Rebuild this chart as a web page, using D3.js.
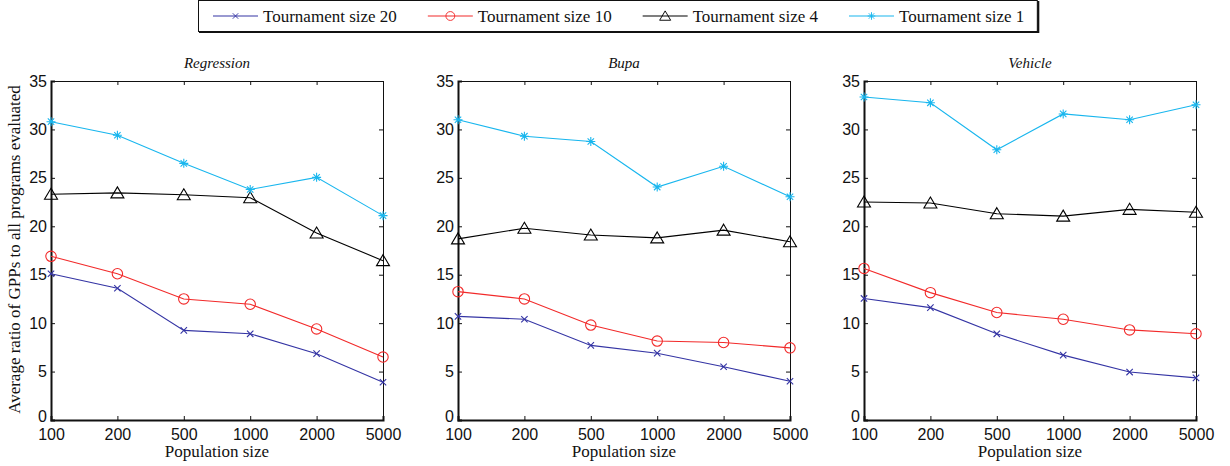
<!DOCTYPE html>
<html>
<head>
<meta charset="utf-8">
<script src="https://cdn.jsdelivr.net/npm/d3@7"></script>
<style>
  body { margin: 0; background: #fff; }
  svg { display: block; }
  .tick text { font-family: "Liberation Sans", Arial, sans-serif; font-size: 16px; fill: #111; }
  .lbl { font-family: "Liberation Serif", "Times New Roman", serif; font-size: 17px; fill: #111; }
</style>
</head>
<body>
<script>
  'use strict';

  var popSizes = ["100", "200", "500", "1000", "2000", "5000"];
  var yTicks = [0, 5, 10, 15, 20, 25, 30, 35];
  var panelTitles = ["Regression", "Bupa", "Vehicle"];
  var seriesNames = ["Tournament size 20", "Tournament size 10", "Tournament size 4", "Tournament size 1"];

  // one array per dataset, one row per tournament size (20, 10, 4, 1)
  var regression = [
    [15.1, 13.6, 9.25, 8.9, 6.85, 3.9],
    [16.9, 15.1, 12.5, 11.95, 9.4, 6.5],
    [23.3, 23.45, 23.25, 22.95, 19.3, 16.45],
    [30.8, 29.4, 26.5, 23.8, 25.05, 21.1]
  ];
  var bupa = [
    [10.7, 10.4, 7.7, 6.9, 5.5, 4.0],
    [13.25, 12.5, 9.8, 8.15, 8.0, 7.45],
    [18.7, 19.8, 19.1, 18.8, 19.6, 18.4],
    [31.0, 29.3, 28.75, 24.05, 26.2, 23.05]
  ];
  var vehicle = [
    [12.55, 11.6, 8.9, 6.7, 4.95, 4.35],
    [15.65, 13.15, 11.1, 10.4, 9.3, 8.9],
    [22.5, 22.4, 21.3, 21.05, 21.75, 21.45],
    [33.35, 32.75, 27.9, 31.6, 31.0, 32.55]
  ];
  var panelData = [regression, bupa, vehicle];

  var colors = ["#3434a4", "#f22a2a", "#000000", "#18b6ee"];
  var markers = ["x", "o", "tri", "star"];

  (function () {
    var width = 1230;
    var height = 466;
    var plotTop = 81, plotBottom = 420, plotW = 332;
    var panelLeft = [51, 458, 864];

    var svg = d3.select("body").append("svg")
      .attr("width", width)
      .attr("height", height);

    var y = d3.scaleLinear().domain([0, 35]).range([plotBottom, plotTop]);

    function drawMarker(g, kind, color) {
      if (kind === "x") {
        g.append("path").attr("d", "M-3.2,-3.2L3.2,3.2M-3.2,3.2L3.2,-3.2")
          .attr("stroke", color).attr("stroke-width", 1.1).attr("fill", "none");
      } else if (kind === "o") {
        g.append("circle").attr("r", 5.2)
          .attr("stroke", color).attr("stroke-width", 1.1).attr("fill", "none");
      } else if (kind === "tri") {
        g.append("path").attr("d", "M0,-6L6.5,5L-6.5,5Z")
          .attr("stroke", color).attr("stroke-width", 1.1).attr("fill", "none");
      } else {
        g.append("path")
          .attr("d", "M-4.5,0L4.5,0M0,-4.5L0,4.5M-3.2,-3.2L3.2,3.2M-3.2,3.2L3.2,-3.2")
          .attr("stroke", color).attr("stroke-width", 1.1).attr("fill", "none");
      }
    }

    panelData.forEach(function (rows, p) {
      var x0 = panelLeft[p];
      var x = d3.scalePoint().domain(popSizes).range([x0, x0 + plotW]);
      var g = svg.append("g");

      // axes: ticks pointing inward on all four sides
      var left = g.append("g").attr("transform", "translate(" + x0 + ",0)")
        .call(d3.axisLeft(y).tickValues(yTicks).tickSize(-4).tickPadding(4));
      var btm = g.append("g").attr("transform", "translate(0," + plotBottom + ")")
        .call(d3.axisBottom(x).tickSize(-4).tickPadding(8));
      g.append("g").attr("transform", "translate(" + (x0 + plotW) + ",0)")
        .call(d3.axisRight(y).tickValues(yTicks).tickSize(-4).tickFormat(""));
      g.append("g").attr("transform", "translate(0," + plotTop + ")")
        .call(d3.axisTop(x).tickSize(-4).tickFormat(""));

      g.selectAll(".domain").attr("stroke", "#111").attr("stroke-width", 1);
      left.select(".domain").attr("stroke-width", 2);
      btm.select(".domain").attr("stroke-width", 2);
      g.selectAll(".tick line").attr("stroke", "#111");
      btm.selectAll(".tick text").attr("dy", "0.72em");
      // lift the "0" label a little, as in the original
      left.selectAll(".tick text").filter(function (d) { return d === 0; }).attr("dy", "0.1em");

      // series
      var line = d3.line()
        .x(function (d, i) { return x(popSizes[i]); })
        .y(function (d) { return y(d); });

      rows.forEach(function (vals, s) {
        g.append("path")
          .datum(vals)
          .attr("d", line)
          .attr("fill", "none")
          .attr("stroke", colors[s])
          .attr("stroke-width", 1.1);
        vals.forEach(function (v, i) {
          var m = g.append("g").attr("transform", "translate(" + x(popSizes[i]) + "," + y(v) + ")");
          drawMarker(m, markers[s], colors[s]);
        });
      });

      g.append("text").attr("class", "lbl")
        .attr("x", x0 + plotW / 2).attr("y", 68)
        .attr("text-anchor", "middle")
        .style("font-style", "italic").style("font-size", "15px")
        .text(panelTitles[p]);

      g.append("text").attr("class", "lbl")
        .attr("x", x0 + plotW / 2).attr("y", 457)
        .attr("text-anchor", "middle")
        .text("Population size");
    });

    svg.append("text").attr("class", "lbl")
      .attr("transform", "translate(20," + ((plotTop + plotBottom) / 2 - 1) + ") rotate(-90)")
      .attr("text-anchor", "middle")
      .text("Average ratio of GPPs to all programs evaluated");

    // legend
    var leg = svg.append("g");
    var lx = 213, ly = 16;
    seriesNames.forEach(function (name, s) {
      leg.append("line")
        .attr("x1", lx).attr("x2", lx + 45).attr("y1", ly).attr("y2", ly)
        .attr("stroke", colors[s]).attr("stroke-width", 1.1);
      var m = leg.append("g").attr("transform", "translate(" + (lx + 22.5) + "," + ly + ") scale(0.85)");
      drawMarker(m, markers[s], colors[s]);
      var t = leg.append("text").attr("class", "lbl")
        .attr("x", lx + 50).attr("y", ly + 5.5)
        .text(name);
      lx = lx + 50 + t.node().getComputedTextLength() + 31;
    });
    var boxRight = lx - 31 + 13;
    leg.insert("rect", ":first-child")
      .attr("x", 198.5).attr("y", 0.5)
      .attr("width", boxRight - 198.5).attr("height", 31)
      .attr("fill", "#fff").attr("stroke", "#111").attr("stroke-width", 1);
    leg.append("line")
      .attr("x1", 199).attr("x2", boxRight + 1).attr("y1", 32).attr("y2", 32)
      .attr("stroke", "#111").attr("stroke-width", 2);
    leg.append("line")
      .attr("x1", boxRight + 1).attr("x2", boxRight + 1).attr("y1", 1).attr("y2", 33)
      .attr("stroke", "#111").attr("stroke-width", 2);
  })();
</script>
</body>
</html>
